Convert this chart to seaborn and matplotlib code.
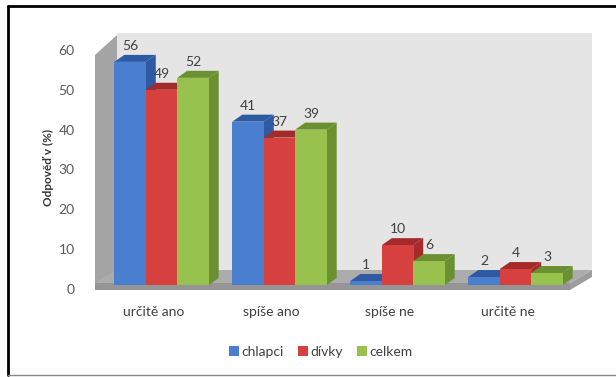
import matplotlib
matplotlib.use("Agg")
import matplotlib.pyplot as plt
from matplotlib.patches import Polygon, Patch
from matplotlib.lines import Line2D
from matplotlib.transforms import ScaledTranslation
import seaborn as sns
import pandas as pd

# Survey answers (share of respondents, %)
kategorie = ["určitě ano", "spíše ano", "spíše ne", "určitě ne"]
skupiny = ["chlapci", "dívky", "celkem"]
chlapci = [56, 41, 1, 2]
divky = [49, 37, 10, 4]
celkem = [52, 39, 6, 3]

barvy = ["#4a7fd0", "#d6403f", "#98c24e"]
barvy_tmave = ["#2d5aa3", "#a42b29", "#6a902f"]

df = pd.DataFrame({
    "kategorie": kategorie * 3,
    "skupina": [s for s in skupiny for _ in kategorie],
    "hodnota": chlapci + divky + celkem,
})

sns.set_theme(style="white")
plt.rcParams["font.family"] = ["Lato", "DejaVu Sans"]

W, H = 616, 377
fig = plt.figure(figsize=(W / 100, H / 100), dpi=100)

# plot box in pixels
AX_L, AX_R, AX_B, AX_T = 102.5, 574.5, 285.0, 34.0
YMAX = 63
ax = fig.add_axes([AX_L / W, (H - AX_B) / H, (AX_R - AX_L) / W, (AX_B - AX_T) / H])
ax.set_facecolor("none")

sns.barplot(data=df, x="kategorie", y="hodnota", hue="skupina",
            hue_order=skupiny, order=kategorie, palette=barvy,
            width=0.8, saturation=1, ax=ax, legend=False)

ax.set_xlim(-0.5, 3.5)
ax.set_ylim(0, YMAX)
for s in ax.spines.values():
    s.set_visible(False)

px_x = (AX_R - AX_L) / 4.0
px_y = (AX_B - AX_T) / YMAX


def ax_frac(px, py):
    return ((px - AX_L) / (AX_R - AX_L), (AX_B - py) / (AX_B - AX_T))


def room(points, color, z):
    poly = Polygon([ax_frac(*p) for p in points], closed=True, facecolor=color,
                   edgecolor="none", transform=ax.transAxes, clip_on=False, zorder=z)
    ax.add_patch(poly)


# back wall, left wall and floor slab
room([(117, 33), (592, 33), (592, 270), (117, 270)], "#e5e5e5", 0.1)
room([(95, 290), (95, 55), (117, 35), (117, 272)], "#a4a4a4", 0.2)
room([(95, 283), (570, 283), (592, 270), (117, 270)], "#acacac", 0.3)
room([(95, 283), (570, 283), (570, 290), (95, 290)], "#959595", 0.3)
room([(570, 283), (592, 270), (592, 277), (570, 290)], "#9d9d9d", 0.3)

# depth of each column
dx = 10 / px_x
dy = 7 / px_y

for hi, cont in enumerate(ax.containers):
    for ci, bar in enumerate(cont):
        order = ci * 3 + hi
        x0 = bar.get_x()
        w = bar.get_width()
        h = bar.get_height()
        x1 = x0 + w
        side = Polygon([(x1, 0), (x1 + dx, dy), (x1 + dx, h + dy), (x1, h)],
                       closed=True, facecolor=barvy_tmave[hi], edgecolor="none",
                       zorder=3 + 2 * order, clip_on=False)
        top = Polygon([(x0, h), (x0 + dx, h + dy), (x1 + dx, h + dy), (x1, h)],
                      closed=True, facecolor=barvy_tmave[hi], edgecolor="none",
                      zorder=3 + 2 * order, clip_on=False)
        ax.add_patch(side)
        ax.add_patch(top)
        bar.set_zorder(4 + 2 * order)
        bar.set_edgecolor("none")
        bar.set_clip_on(False)
        ax.annotate(f"{h:.0f}", (x0 + w / 2, h), xytext=(0, 11.5),
                    textcoords="offset points", ha="center", va="center",
                    fontsize=10, color="#404040", zorder=200)

ax.set_yticks(range(0, 61, 10))
ax.tick_params(axis="y", length=0, pad=20, labelsize=10, labelcolor="#595959")
ax.tick_params(axis="x", length=0, pad=15, labelsize=10, labelcolor="#404040")
for lab in ax.get_yticklabels():
    lab.set_transform(lab.get_transform() + ScaledTranslation(0, -0.04, fig.dpi_scale_trans))
for lab in ax.get_xticklabels():
    lab.set_transform(lab.get_transform() + ScaledTranslation(-0.08, 0, fig.dpi_scale_trans))
ax.set_xlabel("")
ax.set_ylabel("")

fig.text(48 / W, (H - 168) / H, "Odpověď v (%)", rotation=90, ha="center",
         va="center", fontsize=8.5, fontweight="bold", color="#333333")

handles = [Patch(facecolor=c, edgecolor="none") for c in barvy]
fig.legend(handles, skupiny, loc="center", bbox_to_anchor=(321 / W, (H - 352) / H),
           ncol=3, frameon=False, fontsize=10, handlelength=0.7, handleheight=0.7,
           handletextpad=0.2, columnspacing=1.0, labelcolor="#404040")

# outer frame
fig.add_artist(Line2D([8 / W, 1], [(H - 6) / H] * 2, color="black", lw=2))
fig.add_artist(Line2D([8 / W] * 2, [(H - 6) / H, (H - 375) / H], color="black", lw=2))
fig.add_artist(Line2D([8 / W, 1], [(H - 375) / H] * 2, color="#888888", lw=1))

fig.savefig("out.png", dpi=100)
